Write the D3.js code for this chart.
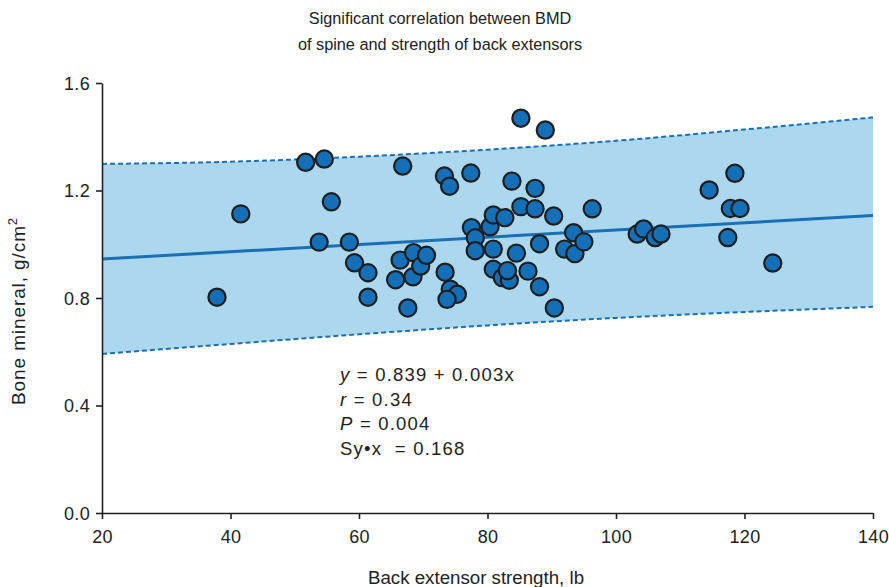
<!DOCTYPE html>
<html>
<head>
<meta charset="utf-8">
<script src="https://cdn.jsdelivr.net/npm/d3@7"></script>
<style>
  html, body { margin: 0; padding: 0; background: #fff; }
  svg { display: block; font-family: "Liberation Sans", Arial, Helvetica, sans-serif; }
</style>
</head>
<body>
<svg id="chart" width="889" height="587"></svg>
<script>
// ---- data ----
const titleLines = ["Significant correlation between BMD", "of spine and strength of back extensors"];
const xTicks = [20, 40, 60, 80, 100, 120, 140];
const yTicks = [0.0, 0.4, 0.8, 1.2, 1.6];
const strength = [37.9, 41.6, 51.7, 54.6, 55.7, 53.8, 58.5, 59.3, 61.4, 61.4,
  66.8, 66.4, 65.7, 68.5, 68.4, 69.6, 67.6, 70.5, 73.3, 74.1,
  77.4, 73.4, 74.2, 75.3, 73.7, 77.5, 78.1, 78.1, 80.4, 80.9,
  82.7, 80.9, 80.9, 82.3, 83.4, 83.1, 83.8, 84.5, 85.2, 85.2,
  89.0, 87.4, 87.4, 90.3, 88.1, 86.3, 88.1, 90.4, 92.0, 93.6,
  93.4, 95.0, 96.3, 103.3, 104.3, 106.1, 107.0, 114.5, 118.5, 117.8,
  119.3, 117.4, 124.4];
const bmd = [0.803, 1.113, 1.305, 1.317, 1.158, 1.008, 1.008, 0.931, 0.894, 0.803,
  1.291, 0.941, 0.868, 0.969, 0.879, 0.919, 0.763, 0.959, 1.254, 1.216,
  1.265, 0.896, 0.833, 0.814, 0.795, 1.062, 1.024, 0.976, 1.065, 1.109,
  1.099, 0.982, 0.907, 0.876, 0.866, 0.902, 1.235, 0.967, 1.140, 1.469,
  1.425, 1.208, 1.132, 1.105, 1.002, 0.900, 0.842, 0.763, 0.982, 0.965,
  1.043, 1.009, 1.132, 1.038, 1.057, 1.025, 1.038, 1.202, 1.264, 1.133,
  1.133, 1.025, 0.930];
const fitX = [20, 140];
const fitY = [0.945, 1.107];
const bandX = [20, 40, 60, 80, 100, 120, 140];
const upperY = [1.299, 1.307, 1.326, 1.352, 1.385, 1.427, 1.472];
const lowerY = [0.592, 0.629, 0.665, 0.698, 0.726, 0.748, 0.767];
const stats = [
  [{t: "y", i: true}, {t: " = 0.839 + 0.003x"}],
  [{t: "r", i: true}, {t: " = 0.34"}],
  [{t: "P", i: true}, {t: " = 0.004"}],
  [{t: "Sy•x\u00A0 = 0.168"}]
];

// ---- chart ----
const svg = d3.select("#chart");
const x = d3.scaleLinear().domain([20, 140]).range([102, 873]);
const y = d3.scaleLinear().domain([0, 1.6]).range([513, 83]);

const blue = "#1b6fb5";
const fill = "#acd8ef";
const ink = "#222";

// band
const upper = bandX.map((v, i) => [v, upperY[i]]);
const lower = bandX.map((v, i) => [v, lowerY[i]]);
const curve = d3.line().x(d => x(d[0])).y(d => y(d[1])).curve(d3.curveMonotoneX);
const upPath = curve(upper);
const lowRev = curve(lower.slice().reverse());
svg.append("path")
  .attr("d", upPath + "L" + lowRev.slice(1) + "Z")
  .attr("fill", fill);

[upper, lower].forEach(b => {
  svg.append("path").attr("d", curve(b)).attr("fill", "none")
    .attr("stroke", blue).attr("stroke-width", 2).attr("stroke-dasharray", "5,3");
});

// fit line
svg.append("path")
  .attr("d", d3.line().x(d => x(d[0])).y(d => y(d[1]))(fitX.map((v, i) => [v, fitY[i]])))
  .attr("stroke", blue).attr("stroke-width", 3).attr("fill", "none");

// points
svg.append("g").selectAll("circle")
  .data(strength.map((v, i) => [v, bmd[i]]))
  .join("circle")
  .attr("cx", d => x(d[0]))
  .attr("cy", d => y(d[1]))
  .attr("r", 8.6)
  .attr("fill", "#156fb6")
  .attr("stroke", "#1e1e1e")
  .attr("stroke-width", 2.2);

// axes
const xAxis = svg.append("g").attr("transform", "translate(0,513)")
  .call(d3.axisBottom(x).tickValues(xTicks).tickFormat(d3.format("d")).tickSize(6).tickSizeOuter(0));
const yAxis = svg.append("g").attr("transform", "translate(102,0)")
  .call(d3.axisLeft(y).tickValues(yTicks).tickFormat(d3.format(".1f")).tickSize(6).tickSizeOuter(0));
[xAxis, yAxis].forEach(g => {
  g.select(".domain").attr("stroke", ink).attr("stroke-width", 1.6);
  g.selectAll(".tick line").attr("stroke", ink).attr("stroke-width", 1.6);
  g.selectAll(".tick text").attr("fill", ink).attr("font-size", 18)
    .attr("letter-spacing", 0.3)
    .attr("font-family", "'Liberation Sans', Arial, sans-serif");
});
xAxis.selectAll(".tick text").attr("dy", null).attr("y", 30);
yAxis.selectAll(".tick text").attr("x", -12).attr("dy", "0.36em");

// titles
svg.append("g").selectAll("text").data(titleLines).join("text")
  .attr("x", 440).attr("y", (d, i) => 24 + i * 26)
  .attr("text-anchor", "middle").attr("font-size", 16.3).attr("fill", ink)
  .text(d => d);

svg.append("text").attr("x", 476).attr("y", 584)
  .attr("text-anchor", "middle").attr("font-size", 18.7).attr("fill", ink)
  .text("Back extensor strength, lb");

const yl = svg.append("text")
  .attr("transform", "translate(25,311) rotate(-90)")
  .attr("text-anchor", "middle").attr("font-size", 19).attr("letter-spacing", 0.9).attr("fill", ink);
yl.append("tspan").text("Bone mineral, g/cm");
yl.append("tspan").attr("dy", -8).attr("font-size", 13).text("2");

// stats
const st = svg.append("g");
stats.forEach((line, i) => {
  const t = st.append("text").attr("x", 340).attr("y", 381 + i * 24.7)
    .attr("font-size", 18.5).attr("letter-spacing", 1.2).attr("fill", ink);
  line.forEach(p => {
    t.append("tspan").attr("font-style", p.i ? "italic" : "normal").text(p.t);
  });
});
</script>
</body>
</html>
